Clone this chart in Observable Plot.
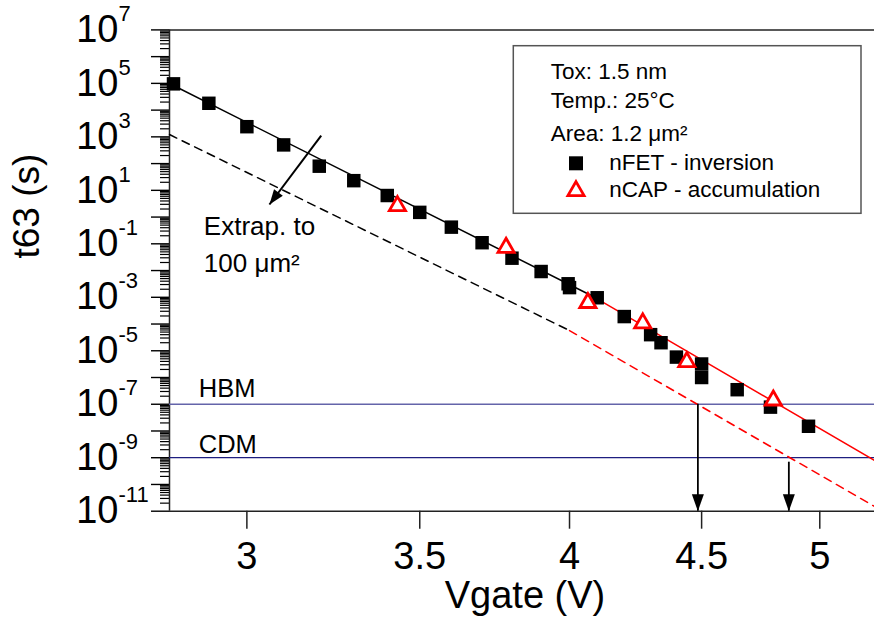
<!DOCTYPE html>
<html><head><meta charset="utf-8">
<script src="https://cdn.jsdelivr.net/npm/d3@7"></script>
<script src="https://cdn.jsdelivr.net/npm/@observablehq/plot@0.6"></script>
<style>body{margin:0;background:#fff}#chart{position:relative;width:874px;height:629px}</style>
</head><body><div id="chart"></div>
<script>
// ---- data ----
const nfetV = [2.81, 2.90, 3.00, 3.10, 3.20, 3.30, 3.40, 3.50, 3.60, 3.70, 3.80, 3.90, 3.995, 4.00, 4.10, 4.20, 4.30, 4.34, 4.40, 4.50, 4.50, 4.645, 4.785, 4.95];
const nfetT = [9.6e4, 1.8e4, 2.4e3, 5.0e2, 80, 23, 6.4, 1.5, 0.42, 0.11, 0.029, 0.0092, 0.0032, 0.0023, 9.6e-4, 1.9e-4, 4.0e-5, 2.0e-5, 5.8e-6, 3.2e-6, 1.0e-6, 3.5e-7, 7.8e-8, 1.5e-8];
const ncapV = [3.431, 3.780, 4.066, 4.270, 4.441, 4.797];
const ncapT = [2.6, 0.072, 6.2e-4, 1.07e-4, 3.8e-6, 1.4e-7];
// power-law fit (1.2 um^2): black part then red part
const fitV = [2.80, 4.078, 5.25];
const fitT = [9.9e4, 1.17e-3, 7.9e-10];
// extrapolation to 100 um^2: black part then red part
const extV = [2.80, 4.00, 5.25];
const extT = [1.22e3, 5.7e-5, 1.5e-11];
// ESD levels
const esdNames = ["HBM", "CDM"];
const esdT = [1e-7, 1e-9];
// arrows down to the voltage axis
const dropV = [4.485, 4.864];
const dropTopT = [1e-7, 6.8e-10];
// "extrapolation" arrow
const extArrowV = [3.2055, 3.061];
const extArrowT = [1.12e3, 2.95];
// axis ticks
const xTicks = [3, 3.5, 4, 4.5, 5];
const xTickLabels = ["3", "3.5", "4", "4.5", "5"];
const yDecadeExp = [7, 6, 5, 4, 3, 2, 1, 0, -1, -2, -3, -4, -5, -6, -7, -8, -9, -10, -11];
const yLabelExp = ["7", "5", "3", "1", "-1", "-3", "-5", "-7", "-9", "-11"];
const legendInfo = ["Tox: 1.5 nm", "Temp.: 25°C", "Area: 1.2 μm²"];
const legendSeries = ["nFET - inversion", "nCAP - accumulation"];

// ---- tables ----
const nfet = nfetV.map((v, i) => ({V: v, t: nfetT[i]}));
const ncap = ncapV.map((v, i) => ({V: v, t: ncapT[i]}));
const fit = fitV.map((v, i) => ({V: v, t: fitT[i]}));
const ext = extV.map((v, i) => ({V: v, t: extT[i]}));
const drops = dropV.map((v, i) => ({V: v, t1: dropTopT[i], t2: 1e-11}));
const extArrow = [{x1: extArrowV[0], y1: extArrowT[0], x2: extArrowV[1], y2: extArrowT[1]}];
const yDecades = yDecadeExp.map(e => Number("1e" + e));
const yLabels = yLabelExp.map(e => ({e, t: Number("1e" + e)}));
const xLabelMap = new Map(xTicks.map((v, i) => [v, xTickLabels[i]]));
const yMinor = [];
for (let e = -11; e < 7; e++) for (let m = 2; m <= 9; m++) yMinor.push(m * Number("1e" + e));

// arrowhead symbols (tip at origin)
function head(len, wid, deg) {
  const a = deg * Math.PI / 180, c = Math.cos(a), s = Math.sin(a);
  const pts = [[0, 0], [-wid / 2, -len], [wid / 2, -len]].map(([x, y]) => [x * c - y * s, x * s + y * c]);
  return {draw(ctx) { ctx.moveTo(pts[0][0], pts[0][1]); ctx.lineTo(pts[1][0], pts[1][1]); ctx.lineTo(pts[2][0], pts[2][1]); ctx.closePath(); }};
}

const FONT = "'Liberation Sans', Arial, Helvetica, sans-serif";
const axisColor = "#222";
const xMin = 2.8;

const plot = Plot.plot({
  width: 874, height: 629,
  marginLeft: 169, marginRight: 0, marginTop: 29.4, marginBottom: 118.3,
  x: {type: "log", domain: [xMin, 5.25]},
  y: {type: "log", domain: [1e-11, 1e7]},
  style: {fontFamily: FONT, fontSize: "38px", background: "white", color: "black", overflow: "visible"},
  marks: [
    // y ticks (minor and major) drawn outward from the y axis line
    Plot.ruleY(yMinor, {x1: xMin, x2: xMin, insetLeft: -9, stroke: "black", strokeWidth: 1.2}),
    Plot.ruleY(yDecades, {x1: xMin, x2: xMin, insetLeft: -18, stroke: "black", strokeWidth: 1.4}),
    Plot.axisX({ticks: xTicks, tickSize: 18, tickPadding: 13, tickFormat: d => xLabelMap.get(d), label: null, stroke: axisColor, strokeOpacity: 1, strokeWidth: 1.5, fontSize: 38}),
    Plot.axisY({ticks: [], label: null}),
    // y tick labels 10^n
    Plot.text(yLabels, {frameAnchor: "left", y: "t", text: () => "10", textAnchor: "end", dx: -51, fontSize: 38}),
    Plot.text(yLabels, {frameAnchor: "left", y: "t", text: "e", textAnchor: "start", lineAnchor: "bottom", dx: -51, dy: -8.8, fontSize: 22}),
    // frame lines
    Plot.ruleX([xMin], {stroke: axisColor, strokeWidth: 1.5}),
    Plot.ruleY([1e-11], {stroke: axisColor, strokeWidth: 1.5}),
    Plot.ruleY([1e7], {stroke: axisColor, strokeWidth: 1.5}),
    // ESD levels
    Plot.ruleY([esdT[0]], {stroke: "#6464aa", strokeWidth: 1.3}),
    Plot.ruleY([esdT[1]], {stroke: "#1e1e80", strokeWidth: 1.3}),
    Plot.text([esdNames[0]], {x: 2.874, y: esdT[0], dy: -7, textAnchor: "start", lineAnchor: "bottom", fontSize: 25.5}),
    Plot.text([esdNames[1]], {x: 2.874, y: esdT[1], dy: -5, textAnchor: "start", lineAnchor: "bottom", fontSize: 25.5}),
    // fits
    Plot.line(ext.slice(0, 2), {x: "V", y: "t", stroke: "black", strokeWidth: 1.5, strokeDasharray: "8,6"}),
    Plot.line(ext.slice(1), {x: "V", y: "t", stroke: "#ff0000", strokeWidth: 1.5, strokeDasharray: "8,6"}),
    Plot.line(fit.slice(0, 2), {x: "V", y: "t", stroke: "black", strokeWidth: 1.5}),
    Plot.line(fit.slice(1), {x: "V", y: "t", stroke: "#ff0000", strokeWidth: 1.5}),
    // drop arrows
    Plot.ruleX(drops, {x: "V", y1: "t1", y2: "t2", stroke: "black", strokeWidth: 1.8}),
    Plot.dot(drops, {x: "V", y: "t2", symbol: head(17, 12, 0), fill: "black"}),
    // extrapolation arrow
    Plot.link(extArrow, {x1: "x1", y1: "y1", x2: "x2", y2: "y2", stroke: "black", strokeWidth: 2}),
    Plot.dot(extArrow, {x: "x2", y: "y2", symbol: head(15, 11, 36.8), fill: "black"}),
    Plot.text(["Extrap. to"], {x: 2.887, y: 0.205, textAnchor: "start", lineAnchor: "bottom", fontSize: 26}),
    Plot.text(["100 μm²"], {x: 2.887, y: 0.0087, textAnchor: "start", lineAnchor: "bottom", fontSize: 26}),
    // data
    Plot.dot(nfet, {x: "V", y: "t", symbol: "square", r: 7.6, fill: "black"}),
    Plot.dot(ncap, {x: "V", y: "t", symbol: "triangle", r: 6, fill: "white", stroke: "#ff0000", strokeWidth: 2.8}),
    // axis titles
    Plot.text(["Vgate (V)"], {frameAnchor: "bottom", dy: 97, dx: 3, fontSize: 38}),
    Plot.text(["t63 (s)"], {frameAnchor: "left", rotate: -90, dx: -142, dy: -12, fontSize: 37})
  ]
});

document.getElementById("chart").appendChild(plot);

// legend box
const svg = d3.select(plot);
const lg = svg.append("g").attr("font-family", FONT).attr("font-size", 22.5).attr("fill", "black").attr("text-anchor", "start");
lg.append("rect").attr("x", 513.3).attr("y", 45.7).attr("width", 347.7).attr("height", 167.6)
  .attr("fill", "white").attr("stroke", "#555").attr("stroke-width", 1.5);
const infoY = [79.3, 108.3, 140.7];
legendInfo.forEach((s, i) => lg.append("text").attr("x", 550.7).attr("y", infoY[i]).attr("text-anchor", "start").text(s));
const serY = [170, 197.3];
lg.append("rect").attr("x", 569).attr("y", 156.3).attr("width", 14).attr("height", 14).attr("fill", "black");
lg.append("path").attr("d", d3.symbol(d3.symbolTriangle, Math.PI * 36)()).attr("transform", "translate(576,191)")
  .attr("fill", "white").attr("stroke", "#ff0000").attr("stroke-width", 2.8);
legendSeries.forEach((s, i) => lg.append("text").attr("x", 609.3).attr("y", serY[i]).attr("text-anchor", "start").text(s));
</script></body></html>
